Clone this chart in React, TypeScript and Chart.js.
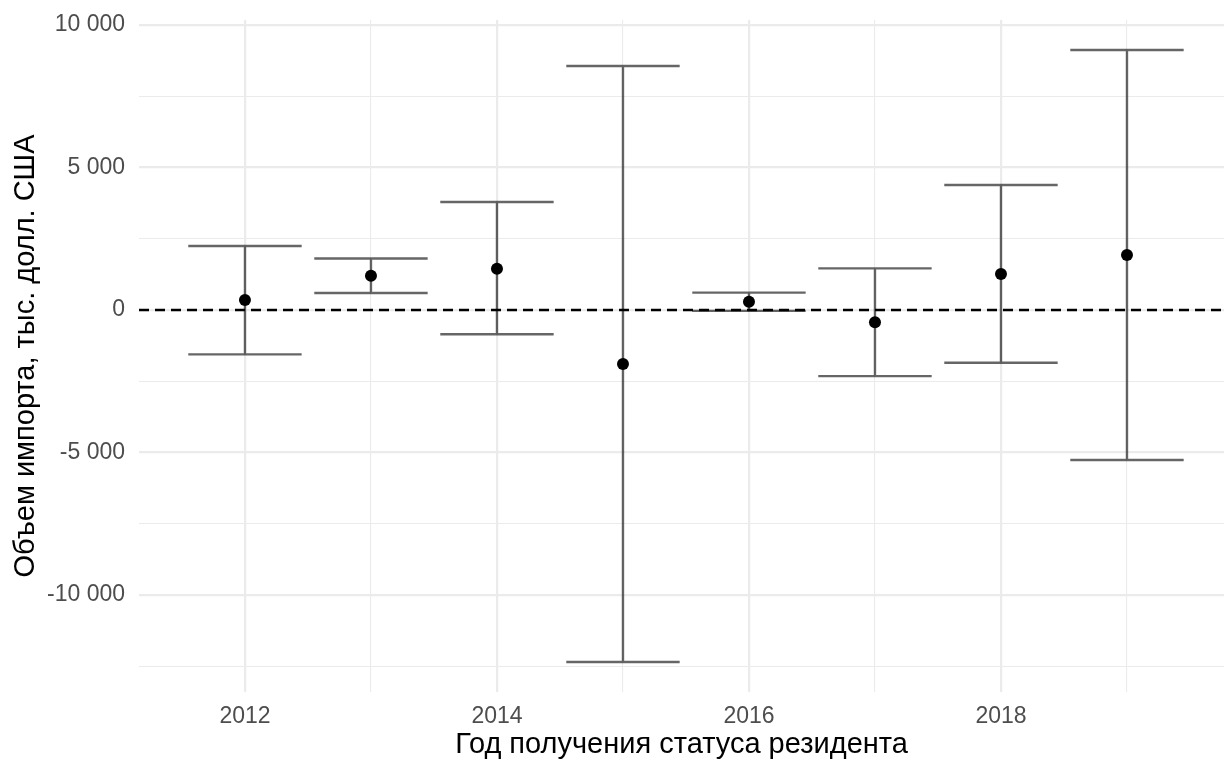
import React, { useEffect, useRef } from "react";
import { Chart, registerables } from "chart.js";

Chart.register(...registerables);

// Years of resident status and the estimated effect with its interval bounds
const years = [2012, 2013, 2014, 2015, 2016, 2017, 2018, 2019];
const estimates = [350, 1200, 1450, -1895, 290, -430, 1265, 1930];
const upperBounds = [2245, 1810, 3790, 8560, 610, 1460, 4385, 9120];
const lowerBounds = [-1555, 600, -850, -12350, -30, -2320, -1850, -5260];

// Axis ticks: major ones carry labels, minor ones only draw a thin grid line
const yTickValues = [-12500, -10000, -7500, -5000, -2500, 0, 2500, 5000, 7500, 10000];
const yLabelledTicks = [-10000, -5000, 0, 5000, 10000];
const xTickValues = [2012, 2013, 2014, 2015, 2016, 2017, 2018, 2019];
const xLabelledTicks = [2012, 2014, 2016, 2018];

const X_MIN = 2011.159;
const X_MAX = 2019.77;
const Y_MIN = -13400;
const Y_MAX = 10175;
const BAR_HALF_WIDTH = 0.45;
const REFERENCE_LEVEL = 0;

const FONT = "'Liberation Sans', Arial, sans-serif";

const formatThousands = (v: number) => {
  const s = Math.abs(v).toString().replace(/\B(?=(\d{3})+(?!\d))/g, " ");
  return (v < 0 ? "-" : "") + s;
};

// Error bars with caps, plus the dashed zero line, painted under the points
const intervalPlugin = {
  id: "intervals",
  beforeDatasetsDraw(chart: any) {
    const { ctx, scales, chartArea } = chart;
    const xs = scales.x;
    const ys = scales.y;
    ctx.save();
    ctx.beginPath();
    ctx.rect(chartArea.left, chartArea.top, chartArea.right - chartArea.left, chartArea.bottom - chartArea.top);
    ctx.clip();

    ctx.strokeStyle = "rgba(0,0,0,0.6)";
    ctx.lineWidth = 2.4;
    ctx.lineCap = "butt";
    years.forEach((yr, i) => {
      const cx = xs.getPixelForValue(yr);
      const x0 = xs.getPixelForValue(yr - BAR_HALF_WIDTH);
      const x1 = xs.getPixelForValue(yr + BAR_HALF_WIDTH);
      const yHi = ys.getPixelForValue(upperBounds[i]);
      const yLo = ys.getPixelForValue(lowerBounds[i]);
      ctx.beginPath();
      ctx.moveTo(x0, yHi);
      ctx.lineTo(x1, yHi);
      ctx.moveTo(x0, yLo);
      ctx.lineTo(x1, yLo);
      ctx.moveTo(cx, yHi);
      ctx.lineTo(cx, yLo);
      ctx.stroke();
    });

    const yz = ys.getPixelForValue(REFERENCE_LEVEL);
    ctx.strokeStyle = "#000000";
    ctx.lineWidth = 2.5;
    ctx.setLineDash([10, 6]);
    ctx.beginPath();
    ctx.moveTo(chartArea.left, yz);
    ctx.lineTo(chartArea.right, yz);
    ctx.stroke();
    ctx.restore();
  },
};

export default function App() {
  const canvasRef = useRef<HTMLCanvasElement | null>(null);

  useEffect(() => {
    if (!canvasRef.current) return;
    const chart = new Chart(canvasRef.current, {
      type: "scatter",
      data: {
        datasets: [
          {
            label: "estimate",
            data: years.map((yr, i) => ({ x: yr, y: estimates[i] })),
            backgroundColor: "#000000",
            borderColor: "#000000",
            pointRadius: 6,
            pointBorderWidth: 0,
          },
        ],
      },
      options: {
        responsive: false,
        animation: false,
        layout: { autoPadding: false, padding: { top: 20, left: 0, right: 0, bottom: 0 } },
        plugins: { legend: { display: false }, tooltip: { enabled: false } },
        scales: {
          x: {
            type: "linear",
            min: X_MIN,
            max: X_MAX,
            afterBuildTicks: (scale: any) => {
              scale.ticks = xTickValues.map((v) => ({ value: v }));
            },
            afterFit: (scale: any) => {
              scale.height = 70;
              scale.paddingLeft = 0;
              scale.paddingRight = 0;
            },
            border: { display: false },
            grid: {
              drawTicks: false,
              color: "#ebebeb",
              lineWidth: (ctx: any) => (xLabelledTicks.includes(ctx.tick?.value) ? 2.2 : 1.1),
            },
            ticks: {
              padding: 11,
              autoSkip: false,
              maxRotation: 0,
              color: "#4d4d4d",
              font: { family: FONT, size: 23 },
              callback: (v: any) => (xLabelledTicks.includes(Number(v)) ? String(v) : ""),
            },
            title: {
              display: true,
              text: "Год получения статуса резидента",
              color: "#000000",
              font: { family: FONT, size: 29 },
              padding: { top: 0, bottom: 0 },
            },
          },
          y: {
            type: "linear",
            min: Y_MIN,
            max: Y_MAX,
            afterBuildTicks: (scale: any) => {
              scale.ticks = yTickValues.map((v) => ({ value: v }));
            },
            afterFit: (scale: any) => {
              scale.width = 139;
              scale.paddingTop = 0;
              scale.paddingBottom = 0;
            },
            border: { display: false },
            grid: {
              drawTicks: false,
              color: "#ebebeb",
              lineWidth: (ctx: any) => (yLabelledTicks.includes(ctx.tick?.value) ? 2.2 : 1.1),
            },
            ticks: {
              padding: 14,
              autoSkip: false,
              color: "#4d4d4d",
              font: { family: FONT, size: 23 },
              callback: (v: any) => (yLabelledTicks.includes(Number(v)) ? formatThousands(Number(v)) : ""),
            },
            title: {
              display: true,
              text: "Объем импорта, тыс. долл. США",
              color: "#000000",
              font: { family: FONT, size: 29 },
              padding: { top: 9, bottom: 0 },
            },
          },
        },
      },
      plugins: [intervalPlugin],
    });
    return () => chart.destroy();
  }, []);

  return (
    <div style={{ position: "fixed", left: 0, top: 0, width: 1224, height: 762, background: "#ffffff" }}>
      <canvas ref={canvasRef} width={1224} height={762} style={{ display: "block" }} />
    </div>
  );
}
